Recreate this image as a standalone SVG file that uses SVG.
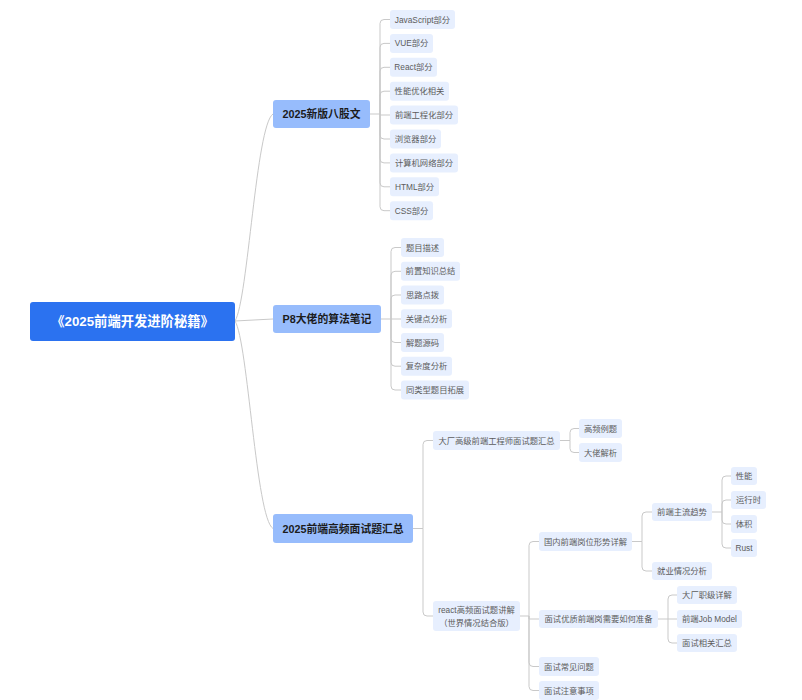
<svg xmlns="http://www.w3.org/2000/svg" width="802" height="700" viewBox="0 0 802 700">
<style>
.root rect{fill:#2b72f0}
.root text{fill:#ffffff;font-size:13.3px;font-weight:bold}
.l1 rect{fill:#97bcfc}
.l1 text{fill:#1c1c1c;font-size:10.8px;font-weight:bold}
.lf rect{fill:#e7effe}
.lf text{fill:#5c5c5c;font-size:8.3px}
text{font-family:"Liberation Sans","Noto Sans CJK SC",sans-serif;text-anchor:middle;dominant-baseline:central}
#connectors path{fill:none;stroke:#c9c9c9;stroke-width:1}
</style>
<rect width="802" height="700" fill="#ffffff"/>
<g id="connectors">
<path d="M235,321 C248,300 256,125 273,114"/>
<path d="M235,321 L273,319"/>
<path d="M235,321 C248,342 256,518 273,528.5"/>
<path d="M370,114 H380 M380,114 V23.5 Q380,19.5 384,19.5 H390 M380,114 V47.4 Q380,43.4 384,43.4 H390 M380,114 V71.3 Q380,67.3 384,67.3 H390 M380,114 V95.2 Q380,91.2 384,91.2 H390 M380,114 V115 H390 M380,114 V135 Q380,139 384,139 H390 M380,114 V158.9 Q380,162.9 384,162.9 H390 M380,114 V182.8 Q380,186.8 384,186.8 H390 M380,114 V206.7 Q380,210.7 384,210.7 H390"/>
<path d="M381,319 H391 M391,319 V251.5 Q391,247.5 395,247.5 H401 M391,319 V275.3 Q391,271.3 395,271.3 H401 M391,319 V299 Q391,295 395,295 H401 M391,319 H401 M391,319 V338.5 Q391,342.5 395,342.5 H401 M391,319 V362.2 Q391,366.2 395,366.2 H401 M391,319 V386 Q391,390 395,390 H401"/>
<path d="M413,528.5 H423 M423,528.5 V444.5 Q423,440.5 427,440.5 H433 M423,528.5 V612 Q423,616 427,616 H433"/>
<path d="M560,440.5 H570 M570,440.5 V432.5 Q570,428.5 574,428.5 H579 M570,440.5 V448.5 Q570,452.5 574,452.5 H579"/>
<path d="M520,616 H529 M529,616 V545.5 Q529,541.5 533,541.5 H539 M529,616 V619 H539 M529,616 V662.5 Q529,666.5 533,666.5 H539 M529,616 V686.5 Q529,690.5 533,690.5 H539"/>
<path d="M632,541.5 H642 M642,541.5 V516 Q642,512 646,512 H652 M642,541.5 V567 Q642,571 646,571 H652"/>
<path d="M712,512 H722 M722,512 V480 Q722,476 726,476 H731 M722,512 V504 Q722,500 726,500 H731 M722,512 V520 Q722,524 726,524 H731 M722,512 V544 Q722,548 726,548 H731"/>
<path d="M658,619 H668 M668,619 V599 Q668,595 672,595 H677 M668,619 H677 M668,619 V639 Q668,643 672,643 H677"/>
</g>
<g id="root" class="root"><rect x="30" y="302" width="205" height="39" rx="3"/><text x="132.5" y="321.5">《2025前端开发进阶秘籍》</text></g>
<g id="n1" class="l1"><rect x="273" y="100" width="97" height="28" rx="3"/><text x="321.5" y="114">2025新版八股文</text></g>
<g id="n2" class="l1"><rect x="273" y="305" width="108" height="28" rx="3"/><text x="327" y="319">P8大佬的算法笔记</text></g>
<g id="n3" class="l1"><rect x="273" y="514" width="140" height="29" rx="3"/><text x="343" y="528.5">2025前端高频面试题汇总</text></g>
<g id="n1a" class="lf"><rect x="390" y="10" width="65" height="19" rx="3"/><text x="422.5" y="19.5">JavaScript部分</text></g>
<g id="n1b" class="lf"><rect x="390" y="33.9" width="43" height="19" rx="3"/><text x="411.5" y="43.4">VUE部分</text></g>
<g id="n1c" class="lf"><rect x="390" y="57.8" width="47" height="19" rx="3"/><text x="413.5" y="67.3">React部分</text></g>
<g id="n1d" class="lf"><rect x="390" y="81.7" width="59" height="19" rx="3"/><text x="419.5" y="91.2">性能优化相关</text></g>
<g id="n1e" class="lf"><rect x="390" y="105.6" width="68" height="19" rx="3"/><text x="424" y="115.1">前端工程化部分</text></g>
<g id="n1f" class="lf"><rect x="390" y="129.5" width="51" height="19" rx="3"/><text x="415.5" y="139">浏览器部分</text></g>
<g id="n1g" class="lf"><rect x="390" y="153.4" width="68" height="19" rx="3"/><text x="424" y="162.9">计算机网络部分</text></g>
<g id="n1h" class="lf"><rect x="390" y="177.3" width="49" height="19" rx="3"/><text x="414.5" y="186.8">HTML部分</text></g>
<g id="n1i" class="lf"><rect x="390" y="201.2" width="43" height="19" rx="3"/><text x="411.5" y="210.7">CSS部分</text></g>
<g id="n2a" class="lf"><rect x="401" y="238" width="43" height="19" rx="3"/><text x="422.5" y="247.5">题目描述</text></g>
<g id="n2b" class="lf"><rect x="401" y="261.8" width="59" height="19" rx="3"/><text x="430.5" y="271.3">前置知识总结</text></g>
<g id="n2c" class="lf"><rect x="401" y="285.5" width="43" height="19" rx="3"/><text x="422.5" y="295">思路点拨</text></g>
<g id="n2d" class="lf"><rect x="401" y="309.2" width="51" height="19" rx="3"/><text x="426.5" y="318.7">关键点分析</text></g>
<g id="n2e" class="lf"><rect x="401" y="333" width="43" height="19" rx="3"/><text x="422.5" y="342.5">解题源码</text></g>
<g id="n2f" class="lf"><rect x="401" y="356.7" width="51" height="19" rx="3"/><text x="426.5" y="366.2">复杂度分析</text></g>
<g id="n2g" class="lf"><rect x="401" y="380.5" width="68" height="19" rx="3"/><text x="435" y="390">同类型题目拓展</text></g>
<g id="n3a" class="lf"><rect x="433" y="431" width="127" height="19" rx="3"/><text x="496.5" y="440.5">大厂高级前端工程师面试题汇总</text></g>
<g id="n3a1" class="lf"><rect x="579" y="419" width="43" height="19" rx="3"/><text x="600.5" y="428.5">高频例题</text></g>
<g id="n3a2" class="lf"><rect x="579" y="443" width="43" height="19" rx="3"/><text x="600.5" y="452.5">大佬解析</text></g>
<g id="n3b" class="lf"><rect x="433" y="601" width="87" height="30" rx="3"/><text x="476.5" y="610">react高频面试题讲解</text><text x="476.5" y="622.5">（世界情况结合版）</text></g>
<g id="n3b1" class="lf"><rect x="539" y="532" width="93" height="19" rx="3"/><text x="585.5" y="541.5">国内前端岗位形势详解</text></g>
<g id="n3b1a" class="lf"><rect x="652" y="503" width="60" height="18" rx="3"/><text x="682" y="512">前端主流趋势</text></g>
<g id="n3b1a1" class="lf"><rect x="731" y="467" width="26" height="18" rx="3"/><text x="744" y="476">性能</text></g>
<g id="n3b1a2" class="lf"><rect x="731" y="491" width="35" height="18" rx="3"/><text x="748.5" y="500">运行时</text></g>
<g id="n3b1a3" class="lf"><rect x="731" y="515" width="26" height="18" rx="3"/><text x="744" y="524">体积</text></g>
<g id="n3b1a4" class="lf"><rect x="731" y="539" width="26" height="18" rx="3"/><text x="744" y="548">Rust</text></g>
<g id="n3b1b" class="lf"><rect x="652" y="562" width="60" height="18" rx="3"/><text x="682" y="571">就业情况分析</text></g>
<g id="n3b2" class="lf"><rect x="539" y="610" width="119" height="18" rx="3"/><text x="598.5" y="619">面试优质前端岗需要如何准备</text></g>
<g id="n3b2a" class="lf"><rect x="677" y="586" width="60" height="18" rx="3"/><text x="707" y="595">大厂职级详解</text></g>
<g id="n3b2b" class="lf"><rect x="677" y="610" width="65" height="18" rx="3"/><text x="709.5" y="619">前端Job Model</text></g>
<g id="n3b2c" class="lf"><rect x="677" y="634" width="60" height="18" rx="3"/><text x="707" y="643">面试相关汇总</text></g>
<g id="n3b3" class="lf"><rect x="539" y="657" width="60" height="19" rx="3"/><text x="569" y="666.5">面试常见问题</text></g>
<g id="n3b4" class="lf"><rect x="539" y="681" width="60" height="19" rx="3"/><text x="569" y="690.5">面试注意事项</text></g>
</svg>
